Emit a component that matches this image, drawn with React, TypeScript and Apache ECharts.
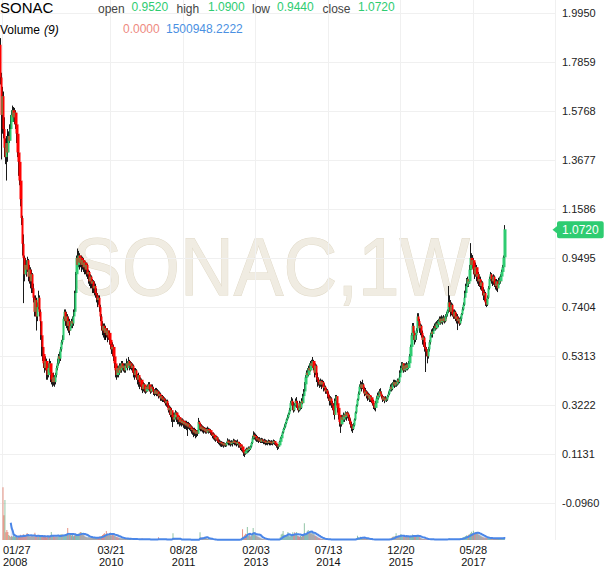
import React, { useEffect, useRef } from "react";
import * as echarts from "echarts";

const FONT = "'Liberation Sans', Arial, Helvetica, sans-serif";
const TITLE = "SONAC";
const WATERMARK = "SONAC,1W";
const START_WEEK = "2008-01-27";
const FUTURE_WEEKS = 51;
const X_TICK_DATES = ["2008-01-27", "2010-03-21", "2011-08-28", "2013-02-03", "2014-07-13", "2015-12-20", "2017-05-28"];
const Y_MIN = -0.3051;
const Y_MAX = 2.0505;
const Y_STEP = 0.2091;
const VOL_MAX = 480000000;
const MA_PERIOD = 9;

// prices in thousandths
const FIRST_OPEN = 1860;
const CLOSE = [
  1720,1560,1640,1500,1420,1380,1440,1400,1470,1450,
  1500,1530,1560,1580,1550,1570,1520,1480,1400,1360,
  1280,1200,1120,1010,950,880,920,900,940,870,
  900,850,880,820,780,720,770,700,740,780,
  720,680,620,570,540,500,480,510,470,450,
  480,500,460,430,420,440,420,450,480,500,
  530,520,560,590,600,690,720,680,700,660,
  680,640,660,680,670,700,720,800,880,950,
  920,960,930,950,920,940,910,930,900,920,
  880,890,850,870,840,850,820,830,800,790,
  770,780,740,700,660,640,660,630,650,620,
  640,610,630,600,580,560,570,530,500,470,
  450,480,460,490,470,500,480,490,470,490,
  500,480,510,490,500,480,490,460,450,470,
  440,430,450,420,410,430,400,390,410,390,
  380,400,390,410,390,380,400,390,380,370,
  385,370,380,360,370,350,360,345,350,340,
  330,340,320,300,310,280,300,270,260,280,
  270,290,280,260,270,250,260,245,255,240,
  250,235,245,230,240,225,230,215,220,205,
  215,200,210,200,250,240,220,230,215,225,
  210,220,205,215,220,210,215,205,200,190,
  195,180,175,185,170,165,160,165,155,160,
  150,158,150,160,170,160,165,155,165,160,
  170,160,165,155,165,160,150,155,140,145,
  130,120,115,125,135,130,140,135,145,160,
  180,195,185,190,175,180,170,175,165,175,
  170,165,170,160,165,160,168,160,165,158,
  165,160,168,162,155,150,145,150,165,180,
  190,205,220,230,245,260,270,285,300,330,
  340,320,300,320,340,330,310,300,330,310,
  340,330,360,380,410,440,460,450,480,470,
  500,490,510,480,460,490,440,430,420,410,
  425,410,420,395,400,380,385,370,355,340,
  350,330,320,300,280,340,360,330,310,280,
  250,240,270,260,280,270,290,275,285,270,
  255,240,230,220,235,260,290,320,345,370,
  400,410,395,410,390,370,380,360,370,350,
  365,345,355,340,330,320,310,330,350,365,
  360,380,370,360,345,355,340,350,345,360,
  370,385,400,390,410,420,405,420,410,430,
  420,440,460,480,500,490,470,490,475,495,
  480,500,530,570,620,660,630,600,620,640,
  700,680,650,660,630,600,610,570,560,550,
  530,560,590,620,635,625,640,650,660,650,
  670,665,680,690,675,690,680,695,680,700,
  710,725,760,740,720,750,710,700,720,690,
  700,680,690,670,690,710,730,750,780,800,
  830,860,840,850,900,950,920,940,900,880,
  910,870,880,850,860,830,845,810,790,800,
  760,750,780,820,860,880,860,850,870,840,
  830,850,820,840,855,850,870,890,910,952,
  1072,
];
const HIGH = [
  1888,1740,1680,1660,1550,1460,1470,1480,1500,1490,
  1520,1560,1580,1600,1594,1590,1580,1530,1490,1420,
  1370,1290,1210,1130,1050,960,950,940,955,945,
  920,910,900,885,840,790,790,780,760,810,
  790,730,690,640,580,560,520,530,520,490,
  500,520,510,470,450,460,450,460,490,520,
  540,550,570,600,620,700,730,730,720,710,
  700,690,680,690,700,710,730,810,890,960,
  990,980,970,960,960,955,950,940,935,930,
  925,900,895,880,875,860,855,850,840,820,
  800,790,790,750,710,680,670,670,660,660,
  650,650,640,640,620,600,590,580,540,510,
  480,490,490,500,500,510,510,500,500,500,
  520,510,527,515,510,505,500,495,480,480,
  475,455,460,455,440,440,435,420,420,415,
  400,405,410,420,420,400,410,410,400,390,
  395,395,390,385,380,375,365,365,360,355,
  350,345,345,330,320,315,310,305,280,290,
  290,300,295,290,280,275,270,265,265,260,
  255,255,255,250,250,245,240,235,230,225,
  225,220,215,215,267,255,245,240,235,230,
  230,228,225,225,230,225,222,220,210,205,
  205,200,190,190,188,180,175,170,168,165,
  164,162,160,165,180,175,175,170,172,170,
  178,175,172,170,170,175,165,165,160,150,
  150,140,130,135,140,140,145,145,150,165,
  190,210,205,200,195,190,185,185,180,182,
  180,175,178,175,172,170,175,172,170,170,
  172,170,175,172,168,160,155,155,170,185,
  195,210,225,240,250,265,280,290,310,340,
  356,350,335,330,350,356,340,320,340,335,
  350,350,370,390,420,450,470,480,490,500,
  510,515,527,515,500,500,495,460,440,430,
  435,430,430,425,415,405,395,390,380,365,
  360,355,340,330,310,350,365,365,340,320,
  290,260,280,280,290,285,295,292,295,290,
  280,265,250,240,245,265,295,325,350,380,
  410,425,420,430,415,400,395,385,380,375,
  375,370,365,360,350,345,330,340,360,375,
  380,390,394,380,365,360,358,360,355,365,
  380,390,410,415,420,430,430,428,425,435,
  435,450,470,490,505,505,500,500,500,505,
  500,510,540,580,630,672,672,640,630,650,
  714,714,690,670,665,640,620,615,590,570,
  560,570,600,630,645,645,650,660,670,675,
  680,685,690,700,700,705,700,706,700,710,
  720,730,830,790,770,760,755,730,730,725,
  715,710,700,695,700,715,740,760,785,810,
  840,864,870,860,920,1013,970,962,950,920,
  930,920,900,890,880,870,855,850,825,815,
  805,775,790,830,870,890,885,875,880,875,
  860,860,855,850,865,870,880,900,920,960,
  1090,
];
const LOW = [
  1690,1370,1480,1460,1380,1350,1280,1360,1390,1420,
  1440,1490,1520,1540,1530,1520,1500,1440,1380,1300,
  1260,1170,1090,960,757,850,880,870,890,850,
  840,820,800,800,760,700,700,640,680,730,
  700,660,600,530,510,480,460,470,430,430,
  440,460,420,410,400,405,400,410,440,470,
  490,500,510,550,580,600,680,660,650,640,
  630,620,640,650,650,660,690,710,790,870,
  900,910,900,910,890,900,890,880,880,870,
  860,840,830,820,820,800,800,790,780,760,
  740,750,720,680,640,620,610,600,600,600,
  610,590,600,580,560,540,530,510,480,440,
  430,440,440,450,460,460,470,465,460,460,
  480,470,480,470,475,470,460,440,430,440,
  430,410,420,400,390,400,385,373,380,375,
  370,375,380,385,380,370,375,380,365,360,
  365,360,360,350,355,340,340,335,335,330,
  320,315,310,290,280,270,260,250,228,250,
  250,260,250,240,240,230,235,230,235,225,
  220,220,215,190,220,215,210,200,195,185,
  190,180,185,190,200,215,210,210,205,205,
  200,205,200,200,205,200,203,195,190,180,
  175,170,165,170,160,155,150,145,143,145,
  140,145,143,145,155,150,150,145,150,145,
  155,150,150,145,148,150,140,140,130,125,
  120,105,100,110,115,117,120,125,130,140,
  155,175,175,170,165,165,160,165,160,160,
  160,155,155,150,152,150,155,150,152,150,
  152,150,155,152,148,140,130,135,145,160,
  175,185,200,215,225,240,255,265,280,295,
  320,300,290,295,315,310,300,290,295,300,
  305,320,325,355,375,400,430,440,445,455,
  465,475,480,470,440,450,420,400,405,395,
  400,390,400,380,385,370,370,350,340,320,
  320,310,300,280,260,275,330,320,290,260,
  230,203,230,240,250,250,260,255,265,255,
  240,225,210,203,215,230,255,285,315,340,
  365,390,380,390,375,360,365,350,345,340,
  345,335,335,330,320,305,300,295,320,345,
  345,355,360,350,335,340,330,338,335,340,
  355,365,380,380,385,400,395,400,400,405,
  410,415,435,455,475,470,460,465,463,470,
  470,475,495,525,565,610,600,580,590,600,
  630,660,630,620,610,580,570,550,463,530,
  500,520,550,580,610,610,620,630,640,640,
  645,650,655,670,665,670,665,675,670,675,
  690,700,715,720,700,705,700,690,690,680,
  670,642,670,660,665,680,705,725,745,770,
  790,820,825,826,840,890,900,905,880,860,
  870,850,840,830,826,815,810,790,770,765,
  745,740,745,775,815,850,840,830,835,826,
  815,810,804,815,830,835,840,860,880,900,
  944,
];
// volume in thousands of shares
const VOLUME_K = [
  47000,22000,35500,7000,8900,7100,4400,3500,2700,3500,
  2800,4200,3100,2600,3900,2400,3300,2900,4600,3800,
  3000,5200,4100,3600,4800,6200,3900,3300,2800,4500,
  3100,3700,2900,6400,3400,2700,3900,3200,2600,4100,
  3000,2800,3500,4300,3000,2500,3800,3100,2700,4000,
  7100,4500,3600,3200,2900,3400,2600,3800,4200,3500,
  5300,5000,4700,4400,3800,4900,5600,10600,4800,5200,
  4500,3900,4600,3300,4100,5000,4300,4800,5500,6000,
  7100,6800,5400,4600,3900,3200,2700,2400,2200,2600,
  2100,1900,2300,2000,1800,2200,1700,1900,2500,2300,
  2800,3200,3600,4400,5100,6000,4800,8000,5500,4200,
  5000,6400,3900,4700,5900,4100,3600,3000,2600,2300,
  2100,1800,1500,1600,1300,1200,1400,1100,1000,1200,
  900,800,1000,700,900,800,600,700,900,800,
  600,700,500,600,1500,500,700,600,500,400,
  600,500,700,400,500,600,500,500,400,600,
  500,2400,500,300,600,400,500,400,300,500,
  400,500,400,600,500,700,5900,800,500,400,
  500,400,300,500,400,300,400,300,500,300,
  400,300,200,400,300,200,300,400,200,300,
  400,300,200,500,6800,2500,1500,2200,1800,2600,
  2000,1400,1000,700,500,400,300,400,300,200,
  300,200,300,200,300,200,300,200,200,300,
  200,200,300,200,300,200,300,200,300,200,
  300,200,300,400,300,500,600,1500,9500,3000,
  4200,5500,4800,11500,3600,4400,3100,3800,4500,10600,
  7100,5200,3900,3300,2800,2400,2000,1500,1200,900,
  700,600,500,400,500,300,400,300,400,300,
  400,500,300,400,500,600,900,2500,4800,5600,
  8000,4600,3800,3300,4200,7100,3900,3200,3600,4100,
  7000,5200,6800,4500,7200,3800,3400,3000,3600,2800,
  5400,4100,14800,5200,6100,7800,8900,6200,7400,5800,
  6600,4900,5300,4100,3500,2800,2400,1800,1500,1200,
  900,800,700,600,500,600,400,500,400,600,
  400,500,300,400,500,600,400,300,400,500,
  300,400,300,500,400,300,400,300,200,400,
  300,500,400,600,800,1200,1500,3800,2200,1800,
  2900,2000,1600,1400,1900,1200,1000,800,600,500,
  400,500,300,400,500,300,400,300,400,500,
  300,400,300,400,500,400,300,400,500,600,
  800,1200,1800,2600,3200,2800,3600,5900,3300,2900,
  3700,3100,5300,3400,2700,3900,3200,2600,3500,3000,
  2800,3300,3900,3600,5000,4200,3100,2700,3400,4400,
  3800,2600,2000,1600,1200,1000,900,800,700,600,
  700,500,600,500,400,600,500,400,500,600,
  400,500,400,600,500,400,500,600,700,500,
  600,800,1500,900,700,600,500,600,500,700,
  600,800,900,1100,1400,1800,2200,2600,3000,3500,
  4200,3800,4600,5200,6000,7400,5800,8200,6200,6800,
  5600,6400,5100,4500,3900,3400,2800,2500,2200,2000,
  1900,1700,1800,1600,1500,1700,1400,1600,1500,1300,
  1400,1700,1500,1600,1400,1800,1700,1500,1600,2408.534,
  0,
];

const UP = "#2ecc71";
const DOWN = "#ff0000";
const VOL_UP = "rgba(40,140,80,0.5)";
const VOL_DOWN = "rgba(210,40,10,0.5)";
const MA_COLOR = "#4a86e8";
const LEGEND_RED = "#ee8a80";
const GRID_LINE = "#f0f0f0";

function buildOption() {
  const n = CLOSE.length;
  const t0 = Date.parse(START_WEEK + "T00:00:00Z");
  const dates: string[] = [];
  for (let i = 0; i < n + FUTURE_WEEKS; i++) {
    dates.push(new Date(t0 + i * 7 * 86400000).toISOString().slice(0, 10));
  }
  const tickSet = new Set(X_TICK_DATES);
  const showTick = (idx: number, val: string) => tickSet.has(val !== undefined ? val : dates[idx]);

  const candles = CLOSE.map((c, i) => {
    const o = i === 0 ? FIRST_OPEN : CLOSE[i - 1];
    const h = Math.max(HIGH[i], o, c);
    const l = Math.min(LOW[i], o, c);
    return [o / 1000, c / 1000, l / 1000, h / 1000];
  });
  const bodies = candles.map(([o, c]) => [o, c, Math.min(o, c), Math.max(o, c)]);
  const vols = VOLUME_K.map((v, i) => ({
    value: v * 1000,
    itemStyle: { color: candles[i][1] >= candles[i][0] ? VOL_UP : VOL_DOWN },
  }));
  const ma = VOLUME_K.map((_, i) => {
    if (i < MA_PERIOD - 1) return "-";
    let s = 0;
    for (let k = i - MA_PERIOD + 1; k <= i; k++) s += VOLUME_K[k] * 1000;
    return s / MA_PERIOD;
  });
  const last = candles[n - 1];
  const lastVol = VOLUME_K[n - 1] * 1000;
  const lastMa = ma[n - 1] as number;

  const tile = document.createElement("canvas");
  tile.width = 5;
  tile.height = 5;
  const ctx = tile.getContext("2d")!;
  ctx.strokeStyle = "#e8e8e8";
  ctx.lineWidth = 1;
  ctx.beginPath();
  ctx.moveTo(0, 5); ctx.lineTo(5, 0);
  ctx.moveTo(-1, 1); ctx.lineTo(1, -1);
  ctx.moveTo(4, 6); ctx.lineTo(6, 4);
  ctx.stroke();

  const txt = (text: string, x: number, y: number, fill: string, size: number, extra: any = {}) => ({
    type: "text",
    x,
    y,
    z: 100,
    silent: true,
    style: {
      text,
      fill,
      fontSize: size,
      fontFamily: FONT,
      align: "left",
      textAlign: "left",
      verticalAlign: "middle",
      textVerticalAlign: "middle",
      ...extra,
    },
  });

  const f4 = (v: number) => v.toFixed(4);

  return {
    animation: false,
    textStyle: { fontFamily: FONT },
    grid: [
      { left: 0, right: 55, top: 0, bottom: 16 },
      { left: 0, right: 55, top: 0, bottom: 27 },
    ],
    xAxis: [
      { type: "category", gridIndex: 0, data: dates, show: false, boundaryGap: true },
      {
        type: "category",
        gridIndex: 1,
        data: dates,
        boundaryGap: true,
        axisLine: { show: false },
        axisTick: { show: false },
        axisLabel: {
          interval: showTick,
          formatter: (v: string) => {
            const [y, m, d] = v.split("-");
            return `${m}/${d}\n${y}`;
          },
          fontSize: 11,
          color: "#111",
          lineHeight: 12,
          margin: 4,
          alignMinLabel: "left",
        },
        splitLine: { show: true, interval: showTick, lineStyle: { color: GRID_LINE, width: 1 } },
      },
    ],
    yAxis: [
      {
        type: "value",
        gridIndex: 0,
        position: "right",
        min: Y_MIN,
        max: Y_MAX,
        interval: Y_STEP,
        axisLine: { show: false },
        axisTick: { show: false },
        axisLabel: {
          formatter: (v: number) => f4(v),
          fontSize: 11,
          color: "#222",
          margin: 7,
          showMinLabel: false,
          showMaxLabel: false,
        },
        splitLine: { show: true, showMinLine: false, showMaxLine: false, lineStyle: { color: GRID_LINE, width: 1 } },
      },
      { type: "value", gridIndex: 1, min: 0, max: VOL_MAX, show: false, splitLine: { show: false } },
    ],
    graphic: [
      {
        type: "text",
        x: 271,
        y: 267,
        z: -10,
        scaleX: 0.92,
        silent: true,
        style: {
          text: WATERMARK,
          fontSize: 81,
          fontFamily: FONT,
          fill: "#f0ece2",
          stroke: "#e0d9c7",
          lineWidth: 1,
          align: "center",
          textAlign: "center",
          verticalAlign: "middle",
          textVerticalAlign: "middle",
        },
      },
      txt(TITLE, 0, 7.5, "#000", 15),
      txt("open", 98, 8.5, "#444", 12),
      txt(f4(last[0]), 131.5, 6.5, UP, 12),
      txt("high", 176.5, 8.5, "#444", 12),
      txt(f4(last[3]), 208, 6.5, UP, 12),
      txt("low", 252, 8.5, "#444", 12),
      txt(f4(last[2]), 277, 6.5, UP, 12),
      txt("close", 322.5, 8.5, "#444", 12),
      txt(f4(last[1]), 358, 6.5, UP, 12),
      txt("Volume", 0, 30, "#000", 12),
      txt("(" + MA_PERIOD + ")", 44, 30, "#000", 12, { fontStyle: "italic" }),
      txt(f4(lastVol), 123, 28.5, LEGEND_RED, 12),
      txt(f4(lastMa), 166, 28.5, "#4a90e2", 12),
    ],
    series: [
      {
        type: "bar",
        xAxisIndex: 1,
        yAxisIndex: 1,
        data: vols,
        barWidth: "65%",
        silent: true,
        markArea: {
          silent: true,
          itemStyle: { color: { image: tile, repeat: "repeat", imageWidth: 5, imageHeight: 5 } },
          data: [[{ xAxis: dates[n] }, { xAxis: dates[dates.length - 1] }]],
        },
      },
      {
        type: "line",
        xAxisIndex: 1,
        yAxisIndex: 1,
        data: ma,
        symbol: "none",
        silent: true,
        lineStyle: { color: MA_COLOR, width: 2 },
        areaStyle: { color: "rgba(74,134,232,0.28)" },
      },
      {
        type: "candlestick",
        xAxisIndex: 0,
        yAxisIndex: 0,
        data: candles,
        barWidth: 0.2,
        silent: true,
        itemStyle: { color: "#000", color0: "#000", borderColor: "#000", borderColor0: "#000", borderWidth: 0.9 },
      },
      {
        type: "candlestick",
        xAxisIndex: 0,
        yAxisIndex: 0,
        data: bodies,
        barWidth: 2.8,
        silent: true,
        itemStyle: { color: UP, color0: DOWN, borderColor: UP, borderColor0: DOWN, borderWidth: 0 },
        markLine: {
          silent: true,
          symbol: ["none", "path://M0,0L10,0L5,8Z"],
          symbolSize: [8, 5],
          lineStyle: { color: UP, width: 0, type: "solid" },
          label: {
            show: true,
            position: "end",
            distance: 2,
            formatter: () => f4(last[1]),
            color: "#fff",
            backgroundColor: UP,
            padding: [3, 5, 2, 5],
            borderRadius: 2,
            fontSize: 12,
            fontFamily: FONT,
          },
          data: [{ yAxis: last[1] }],
        },
      },
    ],
  };
}

export default function App() {
  const ref = useRef<HTMLDivElement>(null);
  useEffect(() => {
    if (!ref.current) return;
    const chart = echarts.init(ref.current, null, { renderer: "svg" });
    chart.setOption(buildOption() as any);
    return () => chart.dispose();
  }, []);
  return (
    <div
      ref={ref}
      style={{ position: "fixed", left: 0, top: 0, width: 610, height: 568, background: "#fff" }}
    />
  );
}
